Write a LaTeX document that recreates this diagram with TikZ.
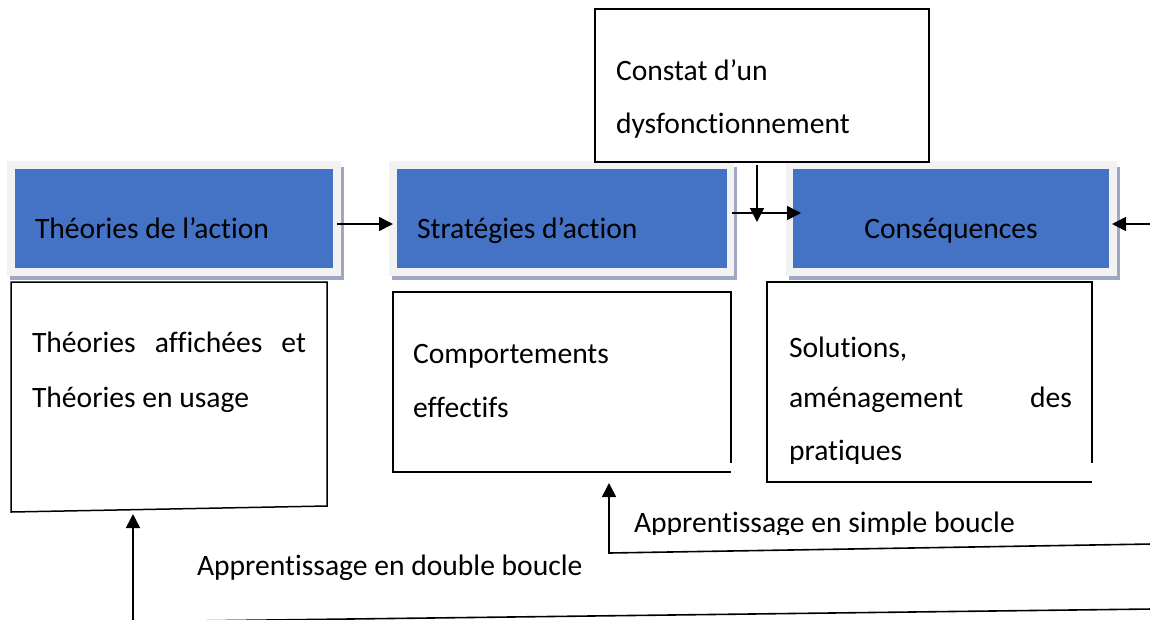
\documentclass[tikz,border=0pt]{standalone}
\usepackage{fontspec}
\setmainfont[RawFeature={-liga,-clig,-dlig}]{Carlito}
\usetikzlibrary{arrows.meta}
\definecolor{boxblue}{HTML}{4472C4}
\definecolor{framegray}{HTML}{F2F2F2}
\definecolor{shadowc}{HTML}{9EA8C4}
\begin{document}
\begin{tikzpicture}[x=1pt,y=-1pt,
  every node/.style={inner sep=0pt,outer sep=0pt},
  frame/.style={fill=framegray,draw=none,minimum height=115pt},
  bluebox/.style={fill=boxblue,draw=none,minimum height=99pt},
  txt/.style={font=\fontsize{29.6}{35}\selectfont,anchor=base west},
  plain/.style={draw=black,line width=1.5pt},
  arr/.style={line width=1.6pt,-{Triangle[length=14pt,width=14pt]}},
  ln/.style={line width=1.6pt}]
\useasboundingbox (0,0) rectangle (1150,619);
\fill[white] (0,0) rectangle (1150,619);

% --- top row: shaded frames ---
\fill[shadowc] (10,167) rectangle (344,280);
\node[frame,minimum width=334pt] (f1) at (174,218.5) {};
\node[bluebox,minimum width=318pt] (b1) at (174,218.5) {};
\node[txt] (t1) at (35,238) {Théories de l’action};

\fill[shadowc] (392,167) rectangle (737,280);
\node[frame,minimum width=345pt] (f2) at (561.5,218.5) {};
\node[bluebox,minimum width=330pt] (b2) at (562,218.5) {};
\node[txt] (t2) at (417,238) {Stratégies d’action};

\fill[shadowc] (789,167) rectangle (1120,280);
\node[frame,minimum width=331pt] (f3) at (951.5,218.5) {};
\node[bluebox,minimum width=316pt] (b3) at (951,218.5) {};
\node[txt,anchor=base] (t3) at (951,238) {Conséquences};

% --- constat box ---
\node[draw=black,line width=1.5pt,fill=white,minimum width=334pt,minimum height=153pt] (constat) at (762,85.5) {};
\node[txt] (c1) at (616,80) {Constat d’un};
\node[txt] (c2) at (616,133) {dysfonctionnement};

% --- lower boxes ---
\node[minimum width=316pt,minimum height=230pt] (bA) at (169,397) {};
\draw[plain] (11,282) -- (327,282) -- (327,506) -- (11,512) -- cycle;
\node[txt] (a1) at (32,352) {\makebox[274pt][s]{Théories affichées et}};
\node[txt] (a2) at (32,407) {Théories en usage};

\node[minimum width=338pt,minimum height=180pt] (bB) at (562,382) {};
\draw[plain] (731,463) -- (731,292) -- (393,292) -- (393,472) -- (731,472);
\draw[line width=2.4pt] (571,472) -- (623,472);
\node[txt] (bb1) at (413,363) {Comportements};
\node[txt] (bb2) at (413,417) {effectifs};

\node[minimum width=325pt,minimum height=200pt] (bC) at (929.5,382) {};
\draw[plain] (1092,463) -- (1092,282) -- (767,282) -- (767,482) -- (1092,482);
\node[txt] (s1) at (789,357) {Solutions,};
\node[txt] (s2) at (789,407) {\makebox[283pt][s]{aménagement des}};
\begin{scope}
\clip (0,0) rectangle (1150,463);
\node[txt] (s3) at (789,460) {pratiques};
\end{scope}

% --- labels ---
\begin{scope}
\clip (0,0) rectangle (1150,534);
\node[txt] (lsimple) at (634,532) {Apprentissage en simple boucle};
\end{scope}
\node[txt] (ldouble) at (197,575) {Apprentissage en double boucle};

% --- connectors ---
\draw[arr,shorten <=-4pt,shorten >=-4pt] (f1.east |- 0,224) -- (f2.west |- 0,224);
\draw[arr,shorten <=-2pt,shorten >=-15pt] (f2.east |- 0,213) -- (f3.west |- 0,213);
\coordinate (cdown) at (757,222);
\draw[arr,shorten <=3pt] (constat.south -| cdown) -- (cdown);
\coordinate (rin) at (1152,224);
\draw[arr,shorten >=-5pt] (rin) -- (f3.east |- rin);

\coordinate (sR) at (1152,544);
\coordinate (sC) at (609,553);
\draw[arr,shorten >=11pt] (sR) -- (sC) -- (sC |- bB.south);

\coordinate (dR) at (1152,609);
\coordinate (dC) at (133,621.7);
\draw[arr,shorten >=2pt] (dR) -- (dC) -- (dC |- bA.south);
\end{tikzpicture}
\end{document}
